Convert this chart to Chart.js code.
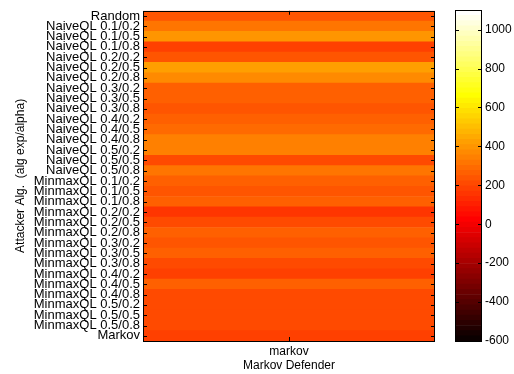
<!DOCTYPE html>
<html>
<head>
<meta charset="utf-8">
<script src="https://cdn.jsdelivr.net/npm/chart.js@4.4.0/dist/chart.umd.min.js"></script>
<style>
html, body { margin: 0; padding: 0; background: #fff; }
#wrap { position: relative; width: 514px; height: 374px; }
#chart { position: absolute; left: 0; top: 0; }
#cbar { position: absolute; left: 430px; top: 0; }
</style>
</head>
<body>
<div id="wrap">
<canvas id="chart" width="440" height="374"></canvas>
<canvas id="cbar" width="84" height="374"></canvas>
</div>
<script>
const attackers = ['Random',
    'NaiveQL 0.1/0.2', 'NaiveQL 0.1/0.5', 'NaiveQL 0.1/0.8',
    'NaiveQL 0.2/0.2', 'NaiveQL 0.2/0.5', 'NaiveQL 0.2/0.8',
    'NaiveQL 0.3/0.2', 'NaiveQL 0.3/0.5', 'NaiveQL 0.3/0.8',
    'NaiveQL 0.4/0.2', 'NaiveQL 0.4/0.5', 'NaiveQL 0.4/0.8',
    'NaiveQL 0.5/0.2', 'NaiveQL 0.5/0.5', 'NaiveQL 0.5/0.8',
    'MinmaxQL 0.1/0.2', 'MinmaxQL 0.1/0.5', 'MinmaxQL 0.1/0.8',
    'MinmaxQL 0.2/0.2', 'MinmaxQL 0.2/0.5', 'MinmaxQL 0.2/0.8',
    'MinmaxQL 0.3/0.2', 'MinmaxQL 0.3/0.5', 'MinmaxQL 0.3/0.8',
    'MinmaxQL 0.4/0.2', 'MinmaxQL 0.4/0.5', 'MinmaxQL 0.4/0.8',
    'MinmaxQL 0.5/0.2', 'MinmaxQL 0.5/0.5', 'MinmaxQL 0.5/0.8',
    'Markov'];
const defenders = ['markov'];
// one value per attacker against the markov defender
const scores = [225, 310, 385, 180, 245, 420, 370, 270, 260, 235, 260, 300, 335, 335, 220, 310,
    260, 235, 260, 150, 210, 250, 225, 250, 200, 195, 250, 215, 210, 210, 200, 185];
const colorMin = -600;
const colorMax = 1100;
const colorTicks = [-600, -400, -200, 0, 200, 400, 600, 800, 1000];

// matlab "hot" colormap, 64 levels
function hotLevel(k) {
    const r = Math.min(1, (k + 1) / 24);
    const g = Math.max(0, Math.min(1, (k + 1 - 24) / 24));
    const b = Math.max(0, Math.min(1, (k + 1 - 48) / 16));
    return 'rgb(' + Math.round(r * 255) + ',' + Math.round(g * 255) + ',' + Math.round(b * 255) + ')';
}
function hotColor(v) {
    let k = Math.floor((v - colorMin) / (colorMax - colorMin) * 64);
    k = Math.max(0, Math.min(63, k));
    return hotLevel(k);
}

const fam = 'Liberation Sans, Arial, sans-serif';

const framePlugin = {
    id: 'frame',
    afterDraw(chart) {
        const ctx = chart.ctx;
        const a = chart.chartArea;
        ctx.save();
        ctx.strokeStyle = '#000';
        ctx.lineWidth = 1;
        ctx.beginPath();
        const ys = chart.scales.y;
        ys.ticks.forEach((t, i) => {
            const y = Math.round(ys.getPixelForTick(i)) + 0.5;
            ctx.moveTo(a.left, y); ctx.lineTo(a.left + 4, y);
            ctx.moveTo(a.right - 4, y); ctx.lineTo(a.right, y);
        });
        const xs = chart.scales.x;
        if (xs.options.display !== false) {
            xs.ticks.forEach((t) => {
                const x = Math.round(xs.getPixelForValue(t.value)) + 0.5;
                ctx.moveTo(x, a.top); ctx.lineTo(x, a.top + 4);
                ctx.moveTo(x, a.bottom - 4); ctx.lineTo(x, a.bottom);
            });
        }
        ctx.stroke();
        ctx.strokeRect(Math.round(a.left) + 0.5, Math.round(a.top) + 0.5,
            Math.round(a.right - a.left) - 1, Math.round(a.bottom - a.top));
        ctx.restore();
    }
};

new Chart(document.getElementById('chart'), {
    type: 'bar',
    data: {
        labels: attackers,
        datasets: [{
            data: attackers.map(() => [0, defenders.length]),
            backgroundColor: scores.map(hotColor),
            borderWidth: 0,
            barPercentage: 1,
            categoryPercentage: 1
        }]
    },
    options: {
        indexAxis: 'y',
        responsive: false,
        animation: false,
        layout: { padding: { top: 6, right: 5, left: 0, bottom: 0 } },
        plugins: { legend: { display: false }, tooltip: { enabled: false } },
        scales: {
            y: {
                type: 'category',
                grid: { display: false, drawTicks: false },
                border: { display: false },
                ticks: { autoSkip: false, font: { family: fam, size: 13 }, color: '#000', padding: 3 },
                title: {
                    display: true, text: 'Attacker Alg.  (alg exp/alpha)',
                    font: { family: fam, size: 12 }, color: '#000',
                    padding: { top: 13, bottom: 0 }
                },
                afterFit: (s) => { s.width = 143; }
            },
            x: {
                type: 'linear', min: 0, max: defenders.length,
                grid: { display: false, drawTicks: false },
                border: { display: false },
                afterBuildTicks: (s) => { s.ticks = defenders.map((d, i) => ({ value: i + 0.5 })); },
                ticks: { font: { family: fam, size: 12 }, color: '#000', padding: 3, callback: (v, i) => defenders[i] },
                title: {
                    display: true, text: 'Markov Defender',
                    font: { family: fam, size: 12 }, color: '#000',
                    padding: { top: 0, bottom: 1 }
                },
                afterFit: (s) => { s.height = 33; }
            }
        }
    },
    plugins: [framePlugin]
});

// colorbar: one floating bar per colormap level
const levelSize = (colorMax - colorMin) / 64;
const bands = [];
for (let k = 0; k < 64; k++) {
    bands.push({
        data: [[colorMin + k * levelSize, colorMin + (k + 1) * levelSize]],
        backgroundColor: hotLevel(k),
        borderWidth: 0,
        grouped: false,
        barPercentage: 1,
        categoryPercentage: 1
    });
}

new Chart(document.getElementById('cbar'), {
    type: 'bar',
    data: { labels: [''], datasets: bands },
    options: {
        responsive: false,
        animation: false,
        layout: { padding: { top: 6, left: 25, right: 0, bottom: 33 } },
        plugins: { legend: { display: false }, tooltip: { enabled: false } },
        scales: {
            x: { display: false },
            y: {
                position: 'right',
                min: colorMin, max: colorMax,
                grid: { display: false, drawTicks: false },
                border: { display: false },
                afterBuildTicks: (s) => { s.ticks = colorTicks.map(v => ({ value: v })); },
                ticks: {
                    font: { family: 'Liberation Sans Narrow, Liberation Sans, Arial', size: 12 },
                    color: '#000', padding: 3, callback: (v) => String(v)
                },
                afterFit: (s) => { s.width = 32; }
            }
        }
    },
    plugins: [framePlugin]
});
</script>
</body>
</html>
